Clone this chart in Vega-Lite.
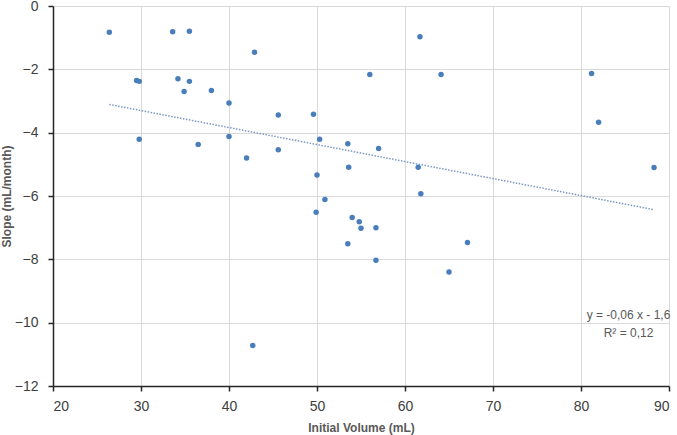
{
  "$schema": "https://vega.github.io/schema/vega-lite/v6.json",
  "width": 616,
  "height": 380,
  "autosize": {"type": "none"},
  "padding": {"left": 53, "top": 6, "right": 8, "bottom": 49},
  "background": "white",
  "view": {"stroke": null},
  "config": {
    "font": "Liberation Sans",
    "axis": {
      "gridColor": "#d9d9d9",
      "gridWidth": 1,
      "domainColor": "#262626",
      "domainWidth": 1.5,
      "tickColor": "#262626",
      "tickWidth": 1.5,
      "tickSize": 5,
      "labelFont": "Liberation Sans",
      "labelFontSize": 14,
      "labelColor": "#404040",
      "titleFont": "Liberation Sans",
      "titleFontSize": 12,
      "titleFontWeight": "bold",
      "titleColor": "#595959"
    }
  },
  "datasets": {
    "measurements": [
      {"volume": 26.4, "slope": -0.83},
      {"volume": 33.6, "slope": -0.81},
      {"volume": 35.5, "slope": -0.80},
      {"volume": 42.9, "slope": -1.46},
      {"volume": 29.5, "slope": -2.35},
      {"volume": 29.8, "slope": -2.38},
      {"volume": 34.2, "slope": -2.30},
      {"volume": 35.5, "slope": -2.38},
      {"volume": 34.9, "slope": -2.70},
      {"volume": 38.0, "slope": -2.67},
      {"volume": 40.0, "slope": -3.06},
      {"volume": 29.8, "slope": -4.21},
      {"volume": 36.5, "slope": -4.37},
      {"volume": 40.0, "slope": -4.12},
      {"volume": 42.0, "slope": -4.80},
      {"volume": 61.7, "slope": -0.97},
      {"volume": 56.0, "slope": -2.16},
      {"volume": 64.1, "slope": -2.16},
      {"volume": 45.6, "slope": -3.44},
      {"volume": 49.6, "slope": -3.42},
      {"volume": 45.6, "slope": -4.54},
      {"volume": 50.3, "slope": -4.21},
      {"volume": 53.5, "slope": -4.35},
      {"volume": 57.0, "slope": -4.50},
      {"volume": 53.6, "slope": -5.09},
      {"volume": 50.0, "slope": -5.34},
      {"volume": 61.5, "slope": -5.09},
      {"volume": 61.8, "slope": -5.93},
      {"volume": 50.9, "slope": -6.11},
      {"volume": 49.9, "slope": -6.51},
      {"volume": 54.0, "slope": -6.68},
      {"volume": 54.8, "slope": -6.81},
      {"volume": 55.0, "slope": -7.02},
      {"volume": 56.7, "slope": -7.00},
      {"volume": 53.5, "slope": -7.51},
      {"volume": 67.1, "slope": -7.47},
      {"volume": 56.7, "slope": -8.03},
      {"volume": 65.0, "slope": -8.40},
      {"volume": 81.2, "slope": -2.13},
      {"volume": 82.0, "slope": -3.67},
      {"volume": 88.3, "slope": -5.10},
      {"volume": 42.7, "slope": -10.72}
    ],
    "fitNote": [
      {"volume": 85.4, "slope": -9.76, "note": "linear fit"}
    ]
  },
  "layer": [
    {
      "data": {"name": "measurements"},
      "mark": {"type": "point", "filled": true, "opacity": 1, "size": 30, "color": "#4a7ebb"},
      "encoding": {
        "x": {
          "field": "volume",
          "type": "quantitative",
          "scale": {"domain": [20, 90], "nice": false, "zero": false},
          "axis": {
            "title": "Initial Volume (mL)",
            "values": [20, 30, 40, 50, 60, 70, 80, 90],
            "labelPadding": 8,
            "titlePadding": 9
          }
        },
        "y": {
          "field": "slope",
          "type": "quantitative",
          "scale": {"domain": [-12, 0], "nice": false, "zero": false},
          "axis": {
            "title": "Slope (mL/month)",
            "values": [-12, -10, -8, -6, -4, -2, 0],
            "labelPadding": 10,
            "titlePadding": 1
          }
        }
      }
    },
    {
      "data": {"name": "measurements"},
      "transform": [{"regression": "slope", "on": "volume", "method": "linear"}],
      "mark": {"type": "line", "color": "#7b98c4", "strokeWidth": 1.5, "strokeDash": [1.5, 1.5]},
      "encoding": {
        "x": {"field": "volume", "type": "quantitative"},
        "y": {"field": "slope", "type": "quantitative"}
      }
    },
    {
      "data": {"name": "fitNote"},
      "mark": {
        "type": "text",
        "text": ["y = -0,06 x - 1,6", "R² = 0,12"],
        "font": "Liberation Sans",
        "fontSize": 12,
        "lineHeight": 18,
        "color": "#595959",
        "align": "center",
        "baseline": "middle"
      },
      "encoding": {
        "x": {"field": "volume", "type": "quantitative"},
        "y": {"field": "slope", "type": "quantitative"}
      }
    }
  ]
}
